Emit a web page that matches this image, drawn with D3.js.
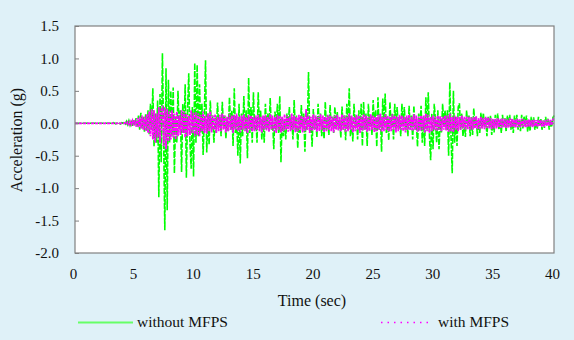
<!DOCTYPE html>
<html>
<head>
<meta charset="utf-8">
<script src="https://cdn.jsdelivr.net/npm/d3@7"></script>
<style>
  body { margin: 0; background: #dff1f8; }
</style>
</head>
<body>
<svg id="chart" width="574" height="340"></svg>
<script>
// Acceleration records (g), sampled every 0.1 s from 0 to 40 s
const sampleStep = 0.1;

const withoutMFPS = [
  0,
  0,0,0,0,0,0,0,0,0,0,
  0,0,0,0,0,0,0,0,0,0,
  0,0,0,0,0,0,0,0,0,0,
  0,0.01,0,-0.01,0,0.01,0,-0.01,0.01,0,
  0.02,-0.01,0.03,-0.02,0.04,-0.03,0.02,-0.04,0.05,-0.03,
  0.08,-0.06,0.12,-0.1,0.16,-0.08,0.1,-0.13,0.14,-0.12,
  0.2,-0.18,0.3,-0.1,0.54,-0.36,0.15,-0.3,0.35,-1.14,
  0.45,-0.6,1.08,-0.2,-1.65,0.85,-1.34,0.67,-0.3,0.5,
  -0.2,0.55,-0.77,0.1,-0.3,0.5,-0.1,0.2,-0.75,0.3,
  -0.15,0.6,-0.84,0.2,0.77,-0.3,-0.7,0.25,-0.82,0.93,
  -0.3,0.9,-0.2,0.6,-0.15,0.3,-0.49,0.1,0.97,-0.45,
  0.15,-0.33,0.35,-0.1,0.12,-0.3,0.08,-0.15,0.32,-0.05,
  0.1,-0.2,0.33,-0.05,0.12,-0.23,0.08,-0.12,0.4,-0.1,
  0.2,-0.35,0.54,-0.15,0.1,-0.5,0.3,-0.62,0.15,-0.2,
  0.42,-0.1,0.2,-0.54,0.7,-0.15,0.25,-0.3,0.48,-0.1,
  0.1,-0.3,0.48,-0.05,0.2,-0.25,0.1,-0.3,0.3,-0.1,
  0.15,-0.12,0.39,-0.1,0.05,-0.4,0.18,-0.1,0.3,-0.15,
  0.42,-0.6,0.1,-0.2,0.05,-0.25,0.15,-0.05,0.25,-0.1,
  0.08,-0.25,0.36,-0.1,0.12,-0.38,0.05,-0.15,0.28,-0.08,
  0.15,-0.44,0.2,-0.1,0.79,-0.15,0.05,-0.36,0.22,-0.1,
  0.1,-0.22,0.3,-0.05,0.15,-0.2,0.05,-0.24,0.33,-0.1,
  0.12,-0.18,0.28,-0.05,0.1,-0.15,0.25,-0.08,0.18,-0.1,
  0.05,-0.22,0.26,-0.1,0.12,-0.26,0.3,-0.1,0.54,-0.2,
  0.1,-0.28,0.3,-0.05,0.12,-0.25,0.2,-0.1,0.3,-0.35,
  0.33,-0.1,0.15,-0.35,0.3,-0.05,0.12,-0.18,0.36,-0.1,
  0.2,-0.36,0.4,-0.1,0.15,-0.44,0.38,-0.05,0.46,-0.15,
  0.1,-0.26,0.33,-0.05,0.15,-0.25,0.3,-0.1,0.25,-0.08,
  0.1,-0.2,0.3,-0.05,0.25,-0.12,0.08,-0.2,0.27,-0.1,
  0.12,-0.25,0.27,-0.1,0.05,-0.36,0.15,-0.08,0.27,-0.3,
  0.1,-0.35,0.4,-0.1,0.48,-0.2,-0.57,0.15,-0.4,0.3,
  0.05,-0.3,0.2,-0.4,0.1,-0.15,0.3,-0.05,0.2,-0.1,
  0.2,-0.5,0.63,-0.2,-0.77,0.5,-0.3,0.1,-0.35,0.25,
  0.31,-0.1,0.15,-0.2,0.05,-0.21,0.2,-0.05,0.12,-0.2,
  0.1,-0.18,0.23,-0.05,0.1,-0.2,0.05,-0.15,0.16,-0.08,
  0.16,-0.06,0.08,-0.2,0.1,-0.05,0.12,-0.18,0.05,-0.14,
  0.13,-0.05,0.15,-0.1,0.04,-0.15,0.13,-0.06,0.08,-0.13,
  0.12,-0.05,0.13,-0.1,0.06,-0.15,0.12,-0.04,0.13,-0.1,
  0.05,-0.12,0.13,-0.08,0.11,-0.04,0.12,-0.13,0.05,-0.12,
  0.1,-0.04,0.09,-0.1,0.03,-0.09,0.1,-0.05,0.07,-0.1,
  0.04,-0.07,0.1,-0.03,0.07,-0.1,0.05,-0.06,0.08,0.12
];

const withMFPS = [
  0,
  0,0,0,0,0,0,0,0,0,0,
  0,0,0,0,0,0,0,0,0,0,
  0,0,0,0,0,0,0,0,0,0,
  0,0,0,0,0,0,0,0,0,0,
  0,0.01,-0.01,0.02,-0.02,0.03,-0.02,0.04,-0.03,0.05,
  -0.05,0.08,-0.06,0.1,-0.08,0.12,-0.1,0.1,-0.12,0.14,
  -0.15,0.18,-0.2,0.22,-0.25,0.2,-0.3,0.15,-0.22,0.25,
  -0.3,0.2,0.27,-0.35,0.25,-0.4,0.22,-0.28,0.18,-0.25,
  0.2,-0.22,0.15,-0.25,0.18,-0.2,0.12,-0.18,0.2,-0.15,
  0.18,-0.22,0.15,-0.2,0.12,-0.18,0.2,-0.15,0.16,-0.2,
  0.17,-0.18,0.15,-0.2,0.13,-0.12,0.18,-0.15,0.12,-0.16,
  0.15,-0.12,0.18,-0.14,0.12,-0.1,0.14,-0.15,0.1,-0.12,
  0.13,-0.12,0.15,-0.1,0.12,-0.14,0.1,-0.12,0.14,-0.1,
  0.12,-0.15,0.13,-0.1,0.15,-0.12,0.1,-0.14,0.12,-0.1,
  0.14,-0.12,0.1,-0.15,0.13,-0.1,0.12,-0.13,0.1,-0.12,
  0.12,-0.1,0.13,-0.12,0.1,-0.14,0.12,-0.1,0.13,-0.11,
  0.1,-0.13,0.14,-0.1,0.12,-0.12,0.1,-0.15,0.13,-0.1,
  0.12,-0.14,0.1,-0.12,0.14,-0.1,0.12,-0.13,0.1,-0.12,
  0.15,-0.1,0.12,-0.14,0.1,-0.12,0.13,-0.1,0.12,-0.14,
  0.1,-0.12,0.22,-0.1,0.12,-0.15,0.1,-0.12,0.14,-0.1,
  0.12,-0.13,0.1,-0.12,0.14,-0.1,0.12,-0.14,0.1,-0.12,
  0.13,-0.1,0.12,-0.12,0.1,-0.14,0.12,-0.1,0.13,-0.11,
  0.1,-0.12,0.14,-0.1,0.12,-0.13,0.1,-0.12,0.15,-0.1,
  0.12,-0.14,0.1,-0.12,0.13,-0.1,0.12,-0.15,0.1,-0.12,
  0.14,-0.1,0.12,-0.13,0.1,-0.12,0.14,-0.1,0.12,-0.14,
  0.1,-0.12,0.13,-0.1,0.15,-0.13,0.1,-0.12,0.14,-0.1,
  0.12,-0.13,0.1,-0.12,0.14,-0.1,0.12,-0.14,0.1,-0.12,
  0.13,-0.1,0.12,-0.12,0.1,-0.14,0.12,-0.1,0.13,-0.11,
  0.1,-0.12,0.14,-0.1,0.12,-0.13,0.1,-0.12,0.12,-0.1,
  0.12,-0.14,0.15,-0.12,0.13,-0.15,0.1,-0.12,0.12,-0.1,
  0.1,-0.12,0.12,-0.1,0.11,-0.12,0.1,-0.1,0.12,-0.11,
  0.12,-0.13,0.15,-0.12,0.1,-0.14,0.12,-0.1,0.1,-0.12,
  0.1,-0.1,0.12,-0.08,0.1,-0.1,0.11,-0.09,0.1,-0.1,
  0.09,-0.1,0.1,-0.08,0.11,-0.09,0.08,-0.1,0.1,-0.08,
  0.08,-0.09,0.1,-0.07,0.09,-0.08,0.08,-0.09,0.07,-0.08,
  0.07,-0.08,0.08,-0.06,0.07,-0.07,0.08,-0.06,0.07,-0.07,
  0.06,-0.07,0.08,-0.06,0.07,-0.06,0.06,-0.07,0.07,-0.06,
  0.06,-0.06,0.07,-0.05,0.06,-0.06,0.05,-0.06,0.06,-0.05,
  0.05,-0.06,0.06,-0.05,0.05,-0.05,0.06,-0.04,0.05,-0.05,
  0.04,-0.05,0.05,-0.04,0.06,-0.04,0.05,-0.03,0.06,0.08
];

const xTickValues = [0, 5, 10, 15, 20, 25, 30, 35, 40];
const yTickValues = [-2.0, -1.5, -1.0, -0.5, 0.0, 0.5, 1.0, 1.5];
const seriesLabels = ["without MFPS", "with MFPS"];
const xTitle = "Time (sec)";
const yTitle = "Acceleration (g)";

// ---- layout ----
const plot = { left: 75, right: 554, top: 26, bottom: 253 };
const greenColor = "#00ff00";
const magentaColor = "#ff00ff";
const serif = "'Liberation Serif', 'Times New Roman', 'DejaVu Serif', serif";

const svg = d3.select("#chart")
  .attr("font-family", serif);

const x = d3.scaleLinear().domain([0, 40]).range([plot.left, plot.right]);
const y = d3.scaleLinear().domain([-2, 1.5]).range([plot.bottom, plot.top]);

// plot area
svg.append("rect")
  .attr("x", plot.left).attr("y", plot.top)
  .attr("width", plot.right - plot.left).attr("height", plot.bottom - plot.top)
  .attr("fill", "#ffffff");

// zero line
svg.append("line")
  .attr("x1", plot.left).attr("x2", plot.right)
  .attr("y1", y(0)).attr("y2", y(0))
  .attr("stroke", "#808080").attr("stroke-width", 1);

// series lines
const toPoints = arr => arr.map((v, i) => [i * sampleStep, v]);
const line = d3.line().x(d => x(d[0])).y(d => y(d[1]));

svg.append("path")
  .datum(toPoints(withoutMFPS))
  .attr("d", line)
  .attr("fill", "none")
  .attr("stroke", greenColor)
  .attr("stroke-width", 1.6)
  .attr("stroke-dasharray", "6,1.5");

svg.append("path")
  .datum(toPoints(withMFPS))
  .attr("d", line)
  .attr("fill", "none")
  .attr("stroke", magentaColor)
  .attr("stroke-width", 1.7)
  .attr("stroke-dasharray", "3,1");

// frame
svg.append("rect")
  .attr("x", plot.left).attr("y", plot.top)
  .attr("width", plot.right - plot.left).attr("height", plot.bottom - plot.top)
  .attr("fill", "none")
  .attr("stroke", "#808080").attr("stroke-width", 1.2);

// y axis (ticks point inward)
const yAxis = svg.append("g")
  .attr("transform", `translate(${plot.left},0)`)
  .call(d3.axisLeft(y).tickValues(yTickValues).tickSize(-4).tickPadding(16)
    .tickFormat(d => d.toFixed(1)));
yAxis.attr("font-family", serif).attr("font-size", 15);
yAxis.select(".domain").remove();
yAxis.selectAll("line").attr("stroke", "#808080");
yAxis.selectAll("text").attr("fill", "#111");

// x axis labels along the bottom
const xAxis = svg.append("g")
  .attr("transform", `translate(-2,${plot.bottom})`)
  .call(d3.axisBottom(x).tickValues(xTickValues).tickSize(0).tickPadding(15)
    .tickFormat(d3.format("d")));
xAxis.attr("font-family", serif).attr("font-size", 15);
xAxis.select(".domain").remove();
xAxis.selectAll("text").attr("fill", "#111");

// axis titles
svg.append("text")
  .attr("x", 312).attr("y", 306)
  .attr("text-anchor", "middle")
  .attr("font-size", 16).attr("fill", "#111")
  .text(xTitle);

svg.append("text")
  .attr("transform", "translate(22,140) rotate(-90)")
  .attr("text-anchor", "middle")
  .attr("font-size", 16).attr("fill", "#111")
  .text(yTitle);

// legend
const legend = svg.append("g").attr("font-size", 15.5).attr("fill", "#111");
legend.append("line")
  .attr("x1", 78).attr("x2", 133).attr("y1", 322.5).attr("y2", 322.5)
  .attr("stroke", "#66ff66").attr("stroke-width", 2);
legend.append("text")
  .attr("x", 137).attr("y", 327)
  .text(seriesLabels[0]);
legend.append("line")
  .attr("x1", 381).attr("x2", 433).attr("y1", 322.5).attr("y2", 322.5)
  .attr("stroke", magentaColor).attr("stroke-width", 1.5)
  .attr("stroke-dasharray", "1.5,5");
legend.append("text")
  .attr("x", 438).attr("y", 327)
  .text(seriesLabels[1]);
</script>
</body>
</html>
